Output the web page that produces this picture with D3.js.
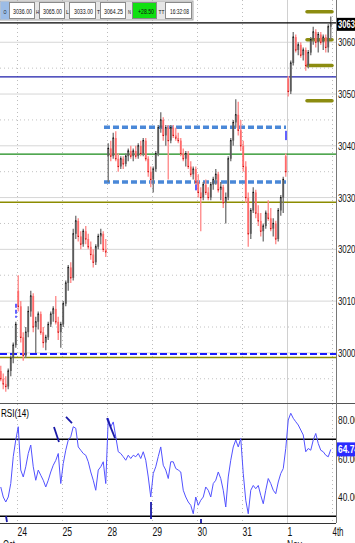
<!DOCTYPE html>
<html><head><meta charset="utf-8">
<script src="https://cdn.jsdelivr.net/npm/d3@7/dist/d3.min.js"></script>
<style>body{margin:0;background:#fff;overflow:hidden}svg{display:block}</style>
</head><body>
<svg id="c" width="355" height="543"></svg>
<script>
// ---------------- DATA ----------------
const dayLabels = ["24","25","28","29","30","31","1","4th"];
const monthLabels = ["Oct","Nov"];
const priceTicks = [3000,3010,3020,3030,3040,3050,3060];
const priceMinorTicks = [2995,3005,3015,3025,3035,3045,3055];
const rsiTicks = [40,60,80];
const rsiBands = [70,30];
const headerLabels = ["O","H","L","T","N","TT"];
const headerValues = ["3036.00","3065.00","3033.00","3064.25","+28.50","16:32:08"];
const lastPrice = 3063.75, lastPriceLabel = "3063";
const lastRsi = 64.74, lastRsiLabel = "64.74";

// OHLC (partial Oct 23, then Oct 24, 25, 28, 29, 30, 31, Nov 1)
const barOpen = [
 2996.5,2995,2994,2993.5,2996.5,2999,3001.5,
 3012,3009,3003,2999.5,3004,3008,3011,3005,3006,3007.5,3004,3002,3003,3005.5,3007.5,3008.5,3006,3004,
 3005.5,3009.5,3013.5,3016.5,3014.5,3023,3025.5,3022.5,3021,3023.5,3022,3020.5,3019,3017.5,3020.5,3022.5,3023,3020,
 3038,3039.5,3038,3041.5,3037.5,3036,3037.5,3036.5,3038,3039,3038,3039,3038,3040,3038.5,3041,3037.5,3035,
 3033.5,3035.5,3038.5,3043.5,3045,3042,3043.5,3041,3043.5,3042,3041.5,3041,3038.5,3037.5,3038.5,3036,3034.5,3035.5,
 3033,3031,3030,3032.5,3031,3030,3032.5,3033.5,3034.5,3031.5,3032,3029,3030,3037.5,3041,3044.5,3046,3043,
 3040,3036,3030,3023,3027.5,3031,3027,3025.5,3023.5,3024.5,3027,3026,3024,3025,3022,3027.5,3030,3038,
 3053,3050.5,3056,3061,3058.5,3059.5,3057.5,3058.5,3055.5,3058,3060.5,3062,3060,3061.5,3060,3061,3059,3063];
const barHigh = [
 2997.5,2996,2995.5,2997,2999.5,3002,3006,
 3015,3010,3004,3005,3009,3012,3011.5,3007,3008,3008,3005,3003.5,3006,3008,3009,3011,3007,3006,
 3010,3014,3017,3017.5,3024,3026.5,3026,3023.5,3024,3024.5,3023,3021.5,3020,3021,3023,3024,3023.5,3022,
 3040.5,3041,3042.5,3042.8,3038.5,3038,3038,3038.5,3039.5,3040,3039.5,3040,3040.5,3041,3041.5,3041.5,3038,3036,
 3036,3039,3044,3046.5,3045.5,3044,3044,3044,3044,3043.5,3042.5,3041.5,3039.5,3039,3039,3037,3036,3036,
 3034.5,3032,3033,3033.5,3032,3033,3034,3035.5,3035,3033,3032.5,3031,3038,3041.5,3045,3049,3048.5,3045,
 3041,3037,3031,3028,3032,3031.5,3028.5,3027,3025,3027.5,3029.5,3028,3026,3025.5,3028,3030.5,3034,3038.5,
 3053.5,3056.5,3062,3061.5,3060,3060,3059,3059,3058.5,3061,3063,3062.5,3062,3062,3061.5,3061.5,3063.5,3065];
const barLow = [
 2994.5,2993,2992.5,2993,2995.5,2998,3001,
 3008,3002,2998.5,2999,3003,3007,3004,3000,3004.5,3003.5,3001,3000.5,3002.5,3005,3006,3005.5,3002.5,3001,
 3005,3009,3012,3013.5,3014,3022,3021.5,3020,3020.5,3021,3020,3018,3016.5,3017,3020,3021,3019.5,3018.5,
 3033,3037,3037.5,3037,3035,3035.5,3035.5,3036,3037,3037.5,3037,3037.5,3037.5,3038,3038,3037,3034,3032,
 3031,3035,3038,3042.5,3041,3040,3033.5,3040.5,3041.5,3041,3040.5,3038,3037,3036,3035.5,3034,3033.5,3032.5,
 3030,3023.5,3029.5,3030.5,3029.5,3029.5,3031.5,3032.5,3031,3029.5,3028,3025,3029.5,3037,3040,3043.5,3042,3039,
 3035,3029,3020.5,3022,3027,3026,3024.5,3022.5,3021.5,3024,3025.5,3023.5,3022.5,3021,3021.5,3026.5,3027,3034,
 3049.5,3050,3055.5,3058,3057.5,3057,3056.5,3054.5,3055,3057.5,3059.5,3059,3058,3059.5,3058.5,3058,3058,3060.5];
const barClose = [
 2995,2994,2993.5,2996.5,2999,3001.5,3005.5,
 3009,3003,2999.5,3004,3008,3011,3005,3006,3007.5,3004,3002,3003,3005.5,3007.5,3008.5,3006,3004,3005.5,
 3009.5,3013.5,3016.5,3014.5,3023,3025.5,3022.5,3021,3023.5,3022,3020.5,3019,3017.5,3020.5,3022.5,3023,3020,3019.5,
 3039.5,3038,3041.5,3037.5,3036,3037.5,3036.5,3038,3039,3038,3039,3038,3040,3038.5,3041,3037.5,3035,3033.5,
 3035.5,3038.5,3043.5,3045,3042,3043.5,3041,3043.5,3042,3041.5,3041,3038.5,3037.5,3038.5,3036,3034.5,3035.5,3033,
 3031,3030,3032.5,3031,3030,3032.5,3033.5,3034.5,3031.5,3032,3029,3030,3037.5,3041,3044.5,3046,3043,3040,
 3036,3030,3023,3027.5,3031,3027,3025.5,3023.5,3024.5,3027,3026,3024,3025,3022,3027.5,3030,3033.5,3035,
 3050.5,3056,3061,3058.5,3059.5,3057.5,3058.5,3055.5,3058,3060.5,3062,3060,3061.5,3060,3061,3059,3063,3063.75];
const rsiValues = [
 45.2,40,37.4,40,47,61,69.6,
 76.5,54,50.4,55.7,62.6,67,55.7,48.7,54,51.3,48.7,45.2,48.7,53,56.5,59,62.6,47,
 57.4,64.3,69.6,71.3,76.5,75.7,66,64.3,62.6,61.7,58.3,53,48.7,43.5,54,55.7,58.3,47,
 80.9,76.5,79,71.3,63.5,62.6,60.9,59.1,61.7,60,61.7,60.9,62.6,60,63.5,59.1,50.4,40,
 52.2,55.7,61,66,56.5,54,49.6,58.3,58.3,54.8,54,53,43.5,40,37.4,35.7,31.3,40,
 35.7,38.3,40,45.2,43.5,40,47,48.7,53,49.6,43.5,34.8,50.4,59.1,66,69.6,66,70.4,
 52.2,38.3,31.3,43.5,46,44.3,46,40.9,36.5,43.5,49.6,47,43.5,41.7,47.8,52.2,54.8,65.2,
 80,83.5,80.9,79.1,77.4,74.8,72.2,63.5,65.2,64.3,69.6,73,67.8,64.3,63.5,61.7,60.9,64.7];
const firstDayBars = 7, barsPerDay = 18;

// drawn studies: horizontal levels
const levelPrices = [3053.3, 3038.4, 3029.1, 2999.8, 2999.1];
const levelColors = ["#1c1caa","#178a17","#8c8c00","#1a1aff","#8c8c00"];
// channel (dashed): time range and prices
const channelT = [1.933, 5.978];
const channelPrices = [3043.6, 3033.0];
// olive target marks
const targetT = [6.444, 7.0];
const targetPrices = [3065.9, 3060.5, 3055.5, 3048.7];
// small blue marks [t, p1, p2]
const blueMarks = [[-0.022,3009.5,3006.8],[5.978,3042.9,3041.1],[3.978,3032.6,3031.4]];
// RSI trend marks [t1, v1, t2, v2]
const rsiMarks = [[0.822,76.4,0.933,68.6],[1.089,81.6,1.222,78.4],[2.0,81,2.178,70.6],
                  [2.978,37.4,2.978,28.6],[-0.244,30,-0.222,27],[4.089,28.6,4.089,26.5]];

// ---------------- CHART ----------------
const svg = d3.select("#c");
const W = 355, axisX = 336;
const mainTop = 0, mainBot = 403, rsiTop = 403, rsiBot = 523;
const x = d3.scaleLinear().domain([0, 7]).range([17, 332]);
const y = d3.scaleLinear().domain([2990.9, 3064.3]).range([400, 20]);
const yR = d3.scaleLinear().domain([40, 80]).range([497, 420]);
const FONT = "Liberation Sans, Arial, sans-serif";

function barTime(i){
  if (i < firstDayBars) return -1 + (barsPerDay - firstDayBars + i + 0.5)/barsPerDay;
  const k = i - firstDayBars;
  return Math.floor(k/barsPerDay) + ((k % barsPerDay) + 0.5)/barsPerDay;
}
const bars = barOpen.map((o,i)=>({t:barTime(i), o, h:barHigh[i], l:barLow[i], c:barClose[i], r:rsiValues[i]}));

const defs = svg.append("defs");
defs.append("clipPath").attr("id","clipMain").append("rect").attr("x",0).attr("y",mainTop).attr("width",axisX).attr("height",mainBot-mainTop);
defs.append("clipPath").attr("id","clipRsi").append("rect").attr("x",0).attr("y",rsiTop).attr("width",axisX).attr("height",rsiBot-rsiTop);

svg.append("rect").attr("width",W).attr("height",543).attr("fill","#fff");

// grid
const grid = svg.append("g");
grid.selectAll("line.hmaj").data(priceTicks).join("line")
  .attr("x1",0).attr("x2",axisX).attr("y1",d=>y(d)).attr("y2",d=>y(d))
  .attr("stroke","#d6d6d6").attr("stroke-width",1);
grid.selectAll("line.hmin").data(priceMinorTicks).join("line")
  .attr("x1",0).attr("x2",axisX).attr("y1",d=>y(d)).attr("y2",d=>y(d))
  .attr("stroke","#c2c2c2").attr("stroke-width",1).attr("stroke-dasharray","1,3");
grid.selectAll("line.v").data(d3.range(0,8)).join("line")
  .attr("x1",d=>x(d)+0.5).attr("x2",d=>x(d)+0.5).attr("y1",0).attr("y2",rsiBot)
  .attr("stroke",d=>d===6?"#d0d0d0":"#bdbdbd")
  .attr("stroke-dasharray",d=>d===6?null:"1,3");

// levels
const main = svg.append("g").attr("clip-path","url(#clipMain)");
main.selectAll("line.lvl").data(levelPrices).join("line")
  .attr("x1",0).attr("x2",axisX).attr("y1",d=>y(d)).attr("y2",d=>y(d))
  .attr("stroke",(d,i)=>levelColors[i])
  .attr("stroke-width",(d,i)=>i===3?2:(i===4?1.6:1.3))
  .attr("stroke-dasharray",(d,i)=>i===3?"7,3":null);
main.append("line").attr("x1",0).attr("x2",axisX).attr("y1",y(lastPrice)).attr("y2",y(lastPrice))
  .attr("stroke","#000").attr("stroke-width",1.2);

// channel dashed lines
main.selectAll("line.ch").data(channelPrices).join("line")
  .attr("x1",x(channelT[0])).attr("x2",x(channelT[1])).attr("y1",d=>y(d)).attr("y2",d=>y(d))
  .attr("stroke","#4a88d8").attr("stroke-width",3.5).attr("stroke-dasharray","6,3");

// olive targets
main.selectAll("line.tg").data(targetPrices).join("line")
  .attr("x1",x(targetT[0])).attr("x2",x(targetT[1])).attr("y1",d=>y(d)).attr("y2",d=>y(d))
  .attr("stroke","#8c8c10").attr("stroke-width",3.5).attr("stroke-linecap","round");

// blue marks
main.selectAll("line.bm").data(blueMarks).join("line")
  .attr("x1",d=>x(d[0])).attr("x2",d=>x(d[0])).attr("y1",d=>y(d[1])).attr("y2",d=>y(d[2]))
  .attr("stroke","#6262ff").attr("stroke-width",2).attr("stroke-dasharray",(d,i)=>i===0?"4,2":null);

// candles
const up = d=>d.c>=d.o;
main.selectAll("line.wick").data(bars).join("line")
  .attr("x1",d=>x(d.t)).attr("x2",d=>x(d.t)).attr("y1",d=>y(d.h)).attr("y2",d=>y(d.l))
  .attr("stroke",d=>up(d)?"#7a7a7a":"#ff8e8e").attr("stroke-width",1.4);
main.selectAll("rect.body").data(bars).join("rect")
  .attr("x",d=>x(d.t)-0.9).attr("width",1.8)
  .attr("y",d=>y(Math.max(d.o,d.c)))
  .attr("height",d=>Math.max(1.2,Math.abs(y(d.o)-y(d.c))))
  .attr("fill",d=>up(d)?"#5a5a5a":"#ff6a6a");
main.selectAll("rect.cls").data(bars).join("rect")
  .attr("x",d=>x(d.t)-0.6).attr("width",1.2).attr("y",d=>y(d.c)-0.6).attr("height",1.2)
  .attr("fill",d=>up(d)?"#000":"#c00000");

// RSI panel
const rsi = svg.append("g").attr("clip-path","url(#clipRsi)");
rsi.selectAll("line.band").data(rsiBands).join("line")
  .attr("x1",0).attr("x2",axisX).attr("y1",d=>yR(d)).attr("y2",d=>yR(d))
  .attr("stroke","#000").attr("stroke-width",1.3);
rsi.append("path").datum(bars)
  .attr("d",d3.line().x(d=>x(d.t)).y(d=>yR(d.r)))
  .attr("fill","none").attr("stroke","#5252ff").attr("stroke-width",1);
rsi.selectAll("line.rm").data(rsiMarks).join("line")
  .attr("x1",d=>x(d[0])).attr("y1",d=>yR(d[1])).attr("x2",d=>x(d[2])).attr("y2",d=>yR(d[3]))
  .attr("stroke","#1a1aa8").attr("stroke-width",1.8);

// panel borders
svg.append("line").attr("x1",0).attr("x2",W).attr("y1",rsiTop+0.5).attr("y2",rsiTop+0.5).attr("stroke","#555");
svg.append("line").attr("x1",0).attr("x2",axisX).attr("y1",rsiBot+0.5).attr("y2",rsiBot+0.5).attr("stroke","#333");
svg.append("line").attr("x1",axisX+0.5).attr("x2",axisX+0.5).attr("y1",0).attr("y2",rsiBot).attr("stroke","#777");

// price axis
const pAxis = svg.append("g").attr("transform",`translate(${axisX+1},0)`)
  .call(d3.axisRight(y).tickValues(priceTicks).tickSize(0).tickPadding(1).tickFormat(d3.format("d")));
pAxis.select(".domain").remove();
pAxis.selectAll("text").attr("font-family",FONT).attr("font-size",11).attr("fill","#111")
  .attr("textLength",17.5).attr("lengthAdjust","spacingAndGlyphs");

// rsi axis
const rAxis = svg.append("g").attr("transform",`translate(${axisX+1},0)`)
  .call(d3.axisRight(yR).tickValues(rsiTicks).tickSize(0).tickPadding(1).tickFormat(d3.format(".2f")));
rAxis.select(".domain").remove();
rAxis.selectAll("text").attr("font-family",FONT).attr("font-size",11).attr("fill","#111")
  .attr("textLength",21).attr("lengthAdjust","spacingAndGlyphs");

// last price tag
const yl = y(lastPrice);
svg.append("rect").attr("x",axisX+1).attr("y",yl-5).attr("width",W-axisX).attr("height",13).attr("fill","#000");
svg.append("text").attr("x",axisX+2).attr("y",yl+5.5).text(lastPriceLabel)
  .attr("font-family",FONT).attr("font-size",11).attr("font-weight","bold").attr("fill","#fff")
  .attr("textLength",17).attr("lengthAdjust","spacingAndGlyphs");
// last rsi tag
const yr = yR(lastRsi);
svg.append("rect").attr("x",axisX+1).attr("y",yr-7).attr("width",W-axisX).attr("height",14).attr("fill","#2a2aff");
svg.append("text").attr("x",axisX+2).attr("y",yr+4).text(lastRsiLabel)
  .attr("font-family",FONT).attr("font-size",11).attr("font-weight","bold").attr("fill","#fff")
  .attr("textLength",21).attr("lengthAdjust","spacingAndGlyphs");

// RSI title
svg.append("text").attr("x",1).attr("y",417).text("RSI(14)")
  .attr("font-family",FONT).attr("font-size",11).attr("fill","#000")
  .attr("textLength",28).attr("lengthAdjust","spacingAndGlyphs");

// time axis
const tAxis = svg.append("g").attr("transform",`translate(0,${rsiBot})`)
  .call(d3.axisBottom(x).tickValues(d3.range(0,8)).tickSize(0).tickPadding(3).tickFormat((d,i)=>dayLabels[i]));
tAxis.select(".domain").remove();
tAxis.selectAll("text").attr("font-family",FONT).attr("font-size",13).attr("fill","#111")
  .attr("text-anchor","start").attr("dy","0.78em")
  .attr("textLength",(d,i)=>dayLabels[i].length===3?11:dayLabels[i].length*4.8)
  .attr("lengthAdjust","spacingAndGlyphs");
svg.append("text").attr("x",x(0)-2).attr("y",549).attr("text-anchor","end").text(monthLabels[0])
  .attr("font-family",FONT).attr("font-size",13).attr("fill","#111")
  .attr("textLength",12).attr("lengthAdjust","spacingAndGlyphs");
svg.append("text").attr("x",x(6)).attr("y",549).text(monthLabels[1])
  .attr("font-family",FONT).attr("font-size",13).attr("fill","#111")
  .attr("textLength",15).attr("lengthAdjust","spacingAndGlyphs");

// header toolbar
const hdr = svg.append("g");
const labX = [0,35,65,96,126,157], labW = [9,4,4,4,6,8];
const valX = [9,39,69,100,132,165], valW = [26,26,27,26,25,27];
hdr.append("rect").attr("x",0).attr("y",1).attr("width",193).attr("height",19).attr("fill","#e6e6e6").attr("stroke","#a8a8a8");
hdr.append("rect").attr("x",0.5).attr("y",1.5).attr("width",labW[0]).attr("height",18).attr("fill","#9cbce6");
headerLabels.forEach((t,i)=>{
  hdr.append("text").attr("x",labX[i]+labW[i]/2+0.5).attr("y",14).attr("text-anchor","middle").text(t)
    .attr("font-family",FONT).attr("font-size",6).attr("fill","#111")
    .attr("textLength",t.length===2?6:3).attr("lengthAdjust","spacingAndGlyphs");
});
headerValues.forEach((t,i)=>{
  hdr.append("rect").attr("x",valX[i]+0.5).attr("y",2.5).attr("width",valW[i]-1).attr("height",16)
    .attr("fill",i===4?"#10e010":"#fff").attr("stroke","#8a8a8a");
  hdr.append("text").attr("x",valX[i]+valW[i]-3).attr("y",14).attr("text-anchor","end").text(t)
    .attr("font-family",FONT).attr("font-size",6.5).attr("fill","#111")
    .attr("textLength",t.length>=7?19:16).attr("lengthAdjust","spacingAndGlyphs");
});
</script>
</body></html>
